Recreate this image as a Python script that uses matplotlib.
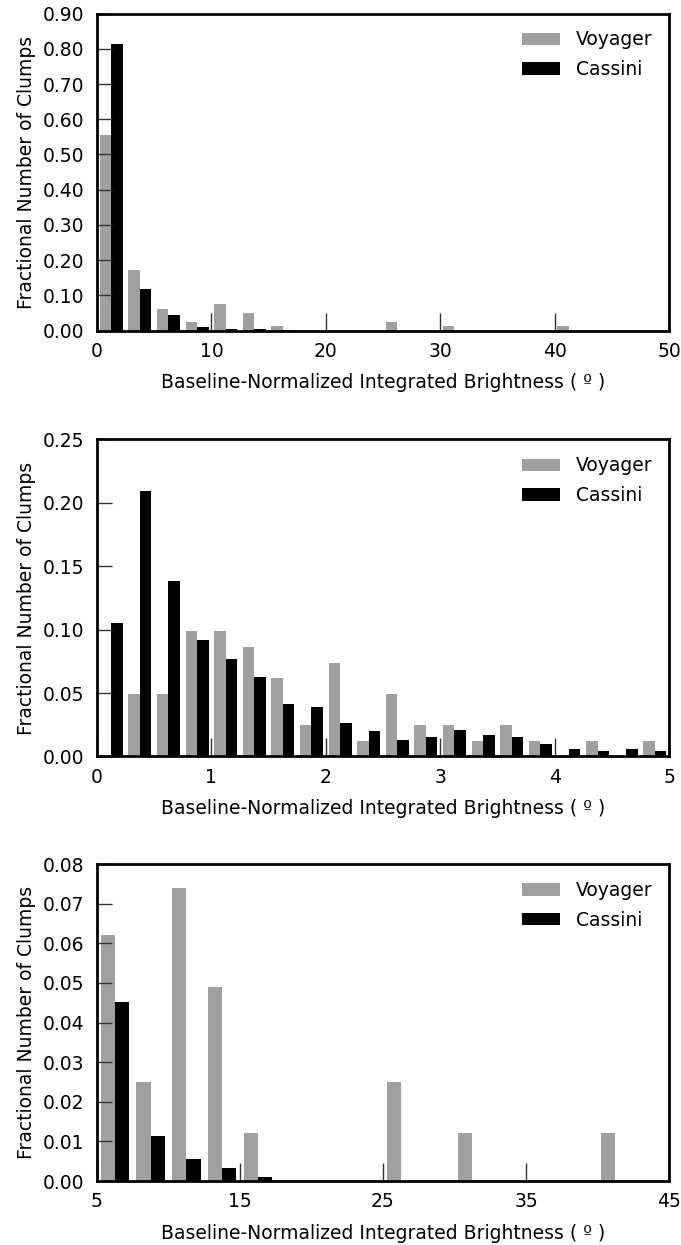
import matplotlib
matplotlib.use('Agg')
import matplotlib.pyplot as plt
import numpy as np

# fractional counts per bin
# panel 1: bins of 2.5 from 0 to 50
edges_all = np.arange(0, 50.01, 2.5)
voyager_all = [0.555, 0.173, 0.062, 0.025, 0.074, 0.049, 0.012, 0, 0, 0,
               0.025, 0, 0.012, 0, 0, 0, 0.012, 0, 0, 0]
cassini_all = [0.813, 0.119, 0.045, 0.011, 0.0055, 0.0033, 0.001, 0, 0, 0,
               0, 0, 0, 0, 0, 0, 0, 0, 0, 0]

# panel 2: bins of 0.25 from 0 to 5
edges_low = np.arange(0, 5.001, 0.25)
voyager_low = [0, 0.049, 0.049, 0.099, 0.099, 0.086, 0.062, 0.025, 0.074, 0.012,
               0.049, 0.025, 0.025, 0.012, 0.025, 0.012, 0, 0.012, 0, 0.012]
cassini_low = [0.105, 0.209, 0.138, 0.092, 0.077, 0.063, 0.041, 0.039, 0.026, 0.020,
               0.013, 0.015, 0.021, 0.017, 0.015, 0.0098, 0.006, 0.0047, 0.006, 0.0047]

# panel 3: bins of 2.5 from 5 to 45
edges_high = np.arange(5, 45.01, 2.5)
voyager_high = [0.062, 0.025, 0.074, 0.049, 0.012, 0, 0, 0,
                0.025, 0, 0.012, 0, 0, 0, 0.012, 0]
cassini_high = [0.0453, 0.0113, 0.0055, 0.0032, 0.001, 0, 0, 0,
                0, 0, 0, 0, 0, 0, 0, 0]

xlabel = 'Baseline-Normalized Integrated Brightness ( \u00ba )'
ylabel = 'Fractional Number of Clumps'

panels = [
    (edges_all, voyager_all, cassini_all, (0, 50), (0, 0.9),
     [0, 10, 20, 30, 40, 50], np.arange(0, 0.91, 0.1), '%.2f'),
    (edges_low, voyager_low, cassini_low, (0, 5), (0, 0.25),
     [0, 1, 2, 3, 4, 5], np.arange(0, 0.251, 0.05), '%.2f'),
    (edges_high, voyager_high, cassini_high, (5, 45), (0, 0.08),
     [5, 15, 25, 35, 45], np.arange(0, 0.081, 0.01), '%.2f'),
]

fig = plt.figure(figsize=(6.81, 12.45), dpi=100)
bottoms = [0.7345, 0.3924, 0.0514]

for (edges, voy, cas, xlim, ylim, xt, yt, fmt), b in zip(panels, bottoms):
    ax = fig.add_axes([0.1424, b, 0.840, 0.2546])
    centers = (edges[:-1] + edges[1:]) / 2
    ax.hist([centers, centers], bins=edges, weights=[voy, cas],
            color=['#a0a0a0', 'black'], edgecolor='none',
            label=['Voyager', 'Cassini'])
    ax.set_xlim(*xlim)
    ax.set_ylim(*ylim)
    ax.set_xticks(xt)
    ax.set_yticks(yt)
    ax.set_yticklabels([fmt % v for v in yt])
    ax.tick_params(direction='in', length=11, width=1, color='#333333',
                   labelsize=13.5, pad=8)
    ax.tick_params(axis='x', length=13)
    ax.tick_params(axis='y', pad=9)
    for s in ax.spines.values():
        s.set_linewidth(2)
    ax.set_xlabel(xlabel, fontsize=13.5, labelpad=9)
    ax.set_ylabel(ylabel, fontsize=13.5, labelpad=5)
    ax.legend(loc='upper right', frameon=False, fontsize=13.5,
              handlelength=2.0, handleheight=0.65, handletextpad=0.85,
              labelspacing=0.57)

fig.savefig('out.png', dpi=100)
